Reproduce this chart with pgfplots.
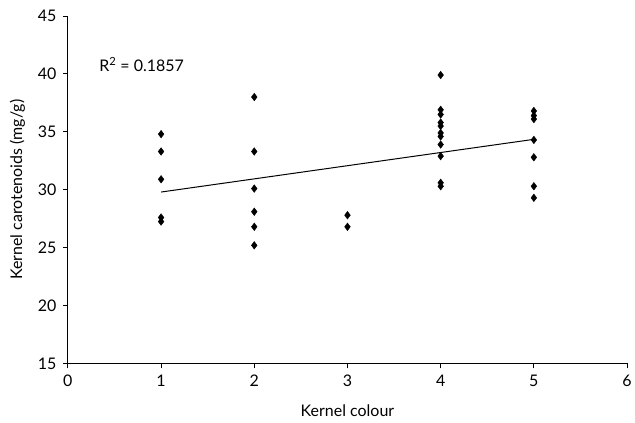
\documentclass[border=0pt]{standalone}
\usepackage{pgfplots}
\pgfplotsset{compat=1.18}
\usepackage{fontspec}
\setmainfont{Lato}

\begin{document}
\begin{tikzpicture}
  \begin{axis}[
    scale only axis,
    width=560pt, height=348pt,
    xmin=0, xmax=6, ymin=15, ymax=45,
    xtick={0,1,...,6}, ytick={15,20,...,45},
    axis x line*=bottom, axis y line*=left,
    axis line style={-, line width=0.9pt},
    tick align=outside, major tick length=5pt,
    tick style={line width=0.9pt, black},
    /pgf/number format/assume math mode=true,
    ticklabel style={font=\fontsize{16}{18}\selectfont},
    yticklabel style={xshift=-3pt},
    xticklabel style={yshift=-3pt},
    label style={font=\fontsize{16}{18}\selectfont},
    xlabel={Kernel colour},
    ylabel={Kernel carotenoids (mg/g)},
    xlabel style={yshift=-11pt},
    ylabel style={yshift=6pt},
    clip=false,
  ]
    \addplot[only marks, mark=diamond*, mark size=3.8pt, black] coordinates {
      (1,34.8) (1,33.3) (1,30.9) (1,27.6) (1,27.25)
      (2,38.0) (2,33.3) (2,30.1) (2,28.1) (2,26.8) (2,25.2)
      (3,27.8) (3,26.8)
      (4,39.9) (4,36.9) (4,36.5) (4,35.8) (4,35.5) (4,34.9) (4,34.6)
      (4,33.9) (4,32.9) (4,30.6) (4,30.3)
      (5,36.8) (5,36.4) (5,36.1) (5,34.3) (5,32.8) (5,30.3) (5,29.3)
    };
    \addplot[black, line width=1pt] coordinates {(1,29.8) (5,34.35)};
    \node[anchor=west, font=\fontsize{16}{18}\selectfont] at (axis cs:0.3,40.8)
      {R\textsuperscript{2} = 0.1857};
    % white margin like the reference
    \path (rel axis cs:-0.1214,-0.1695) rectangle (rel axis cs:1.0125,1.046);
  \end{axis}
\end{tikzpicture}
\end{document}
